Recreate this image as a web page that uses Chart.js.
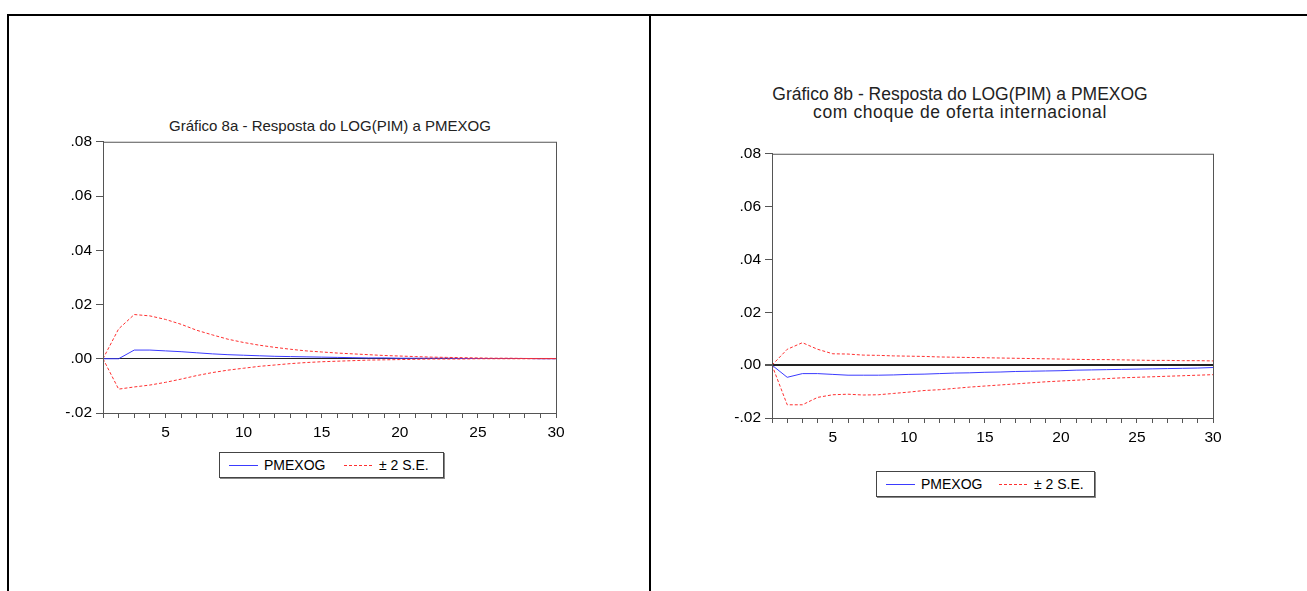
<!DOCTYPE html>
<html>
<head>
<meta charset="utf-8">
<script src="https://cdn.jsdelivr.net/npm/chart.js@4"></script>
<style>
  body { margin: 0; background: #fff; width: 1307px; height: 591px; position: relative; overflow: hidden;
         font-family: "Liberation Sans", Arial, sans-serif; }
  .frame-top { position: absolute; left: 7px; top: 14px; width: 1300px; height: 2px; background: #000; }
  .frame-left { position: absolute; left: 7px; top: 14px; width: 2px; height: 577px; background: #000; }
  .frame-mid { position: absolute; left: 649px; top: 14px; width: 2px; height: 577px; background: #000; }
  .title { position: absolute; text-align: center; color: #222; white-space: nowrap; }
  .box { position: absolute; border: 1px solid #444; box-shadow: 1px 1px 0 #888; background: #fff;
         font-size: 14px; color: #000; box-sizing: border-box; white-space: nowrap; height: 26px; }
  .box span { position: absolute; }
  .ln { top: 12px; width: 29px; height: 1px; }
  .tx { top: 4px; line-height: 16px; }
  .solid { background: #3b3bff; }
  .dash { background: repeating-linear-gradient(to right, #ff3030 0 3px, #fff 3px 5px); }
  canvas { position: absolute; }
</style>
</head>
<body>
<div class="frame-top"></div>
<div class="frame-left"></div>
<div class="frame-mid"></div>

<div class="title" style="left:80px; width:500px; top:117px; font-size:15px; line-height:17px;">Gráfico 8a - Resposta do LOG(PIM) a PMEXOG</div>
<div class="title" style="left:710px; width:500px; top:85px; font-size:17.5px; line-height:18px;">Gráfico 8b - Resposta do LOG(PIM) a PMEXOG<br><span style="letter-spacing:0.6px">com choque de oferta internacional</span></div>

<div class="box" style="left:219px; top:452px; width:225px;">
  <span class="ln solid" style="left:9px"></span><span class="tx" style="left:44px">PMEXOG</span>
  <span class="ln dash" style="left:124px"></span><span class="tx" style="left:159px">± 2 S.E.</span>
</div>
<div class="box" style="left:876px; top:471px; width:219px;">
  <span class="ln solid" style="left:9px"></span><span class="tx" style="left:44px">PMEXOG</span>
  <span class="ln dash" style="left:122px"></span><span class="tx" style="left:157px">± 2 S.E.</span>
</div>

<canvas id="chart8a" style="left:50px; top:130px;" width="520" height="320"></canvas>
<canvas id="chart8b" style="left:719px; top:142px;" width="508" height="313"></canvas>

<script>
// periods 1..30
const periods = [1,2,3,4,5,6,7,8,9,10,11,12,13,14,15,16,17,18,19,20,21,22,23,24,25,26,27,28,29,30];

// Gráfico 8a
const resp8a = [0, 0, 0.0032, 0.0032, 0.0029, 0.0026, 0.0022, 0.0018, 0.0015, 0.0013,
  0.0011, 0.0009, 0.0008, 0.0007, 0.0006, 0.0005, 0.0004, 0.0003, 0.0003, 0.0002,
  0.0002, 0.0002, 0.0002, 0.0001, 0.0001, 0.0001, 0.0001, 0.0001, 0, 0];
const upper8a = [0, 0.011, 0.0163, 0.0158, 0.0145, 0.0127, 0.0105, 0.0088, 0.0072, 0.006,
  0.005, 0.0042, 0.0035, 0.0029, 0.0025, 0.0021, 0.0018, 0.0015, 0.0012, 0.001,
  0.0008, 0.0006, 0.0005, 0.0004, 0.0003, 0.0002, 0.0002, 0.0001, 0.0001, 0.0001];
const lower8a = [0, -0.0112, -0.0104, -0.0097, -0.0087, -0.0075, -0.0062, -0.0051, -0.0042, -0.0035,
  -0.0028, -0.0023, -0.0018, -0.0014, -0.0011, -0.0009, -0.0007, -0.0005, -0.0004, -0.0003,
  -0.0002, -0.0001, -0.0001, -0.0001, 0, 0, 0, 0, 0, 0];

// Gráfico 8b
const resp8b = [0, -0.0046, -0.0032, -0.0032, -0.0035, -0.0038, -0.0038, -0.0038, -0.0037, -0.0035,
  -0.0034, -0.0032, -0.003, -0.0029, -0.0027, -0.0026, -0.0024, -0.0023, -0.0022, -0.0021,
  -0.0019, -0.0018, -0.0017, -0.0016, -0.0015, -0.0014, -0.0013, -0.0012, -0.0011, -0.0009];
const upper8b = [0, 0.006, 0.0085, 0.006, 0.0043, 0.0042, 0.0038, 0.0037, 0.0035, 0.0034,
  0.0033, 0.0031, 0.003, 0.0029, 0.0028, 0.0027, 0.0026, 0.0025, 0.0024, 0.0023,
  0.0022, 0.0021, 0.0021, 0.002, 0.0019, 0.0018, 0.0018, 0.0017, 0.0017, 0.0016];
const lower8b = [0, -0.015, -0.015, -0.0122, -0.0112, -0.011, -0.0113, -0.0112, -0.0107, -0.0102,
  -0.0096, -0.0093, -0.0088, -0.0083, -0.0079, -0.0075, -0.0071, -0.0067, -0.0063, -0.006,
  -0.0057, -0.0054, -0.0051, -0.0048, -0.0046, -0.0044, -0.0042, -0.004, -0.0038, -0.0036];

const yTicks = [-0.02, 0, 0.02, 0.04, 0.06, 0.08];

// box round the plot area
const framePlugin = {
  id: "frame",
  afterDraw(chart) {
    const a = chart.chartArea, c = chart.ctx;
    c.save();
    c.strokeStyle = "#555";
    c.lineWidth = 1;
    c.strokeRect(a.left + 0.5, a.top + 0.5, a.right - a.left, a.bottom - a.top);
    c.restore();
  },
};

function irfChart(id, resp, upper, lower, zeroWidth) {
  return new Chart(document.getElementById(id), {
    type: "line",
    data: {
      labels: periods,
      datasets: [
        { label: "± 2 S.E.", data: upper, borderColor: "#ff3030", borderWidth: 1, borderDash: [3, 2], pointRadius: 0, tension: 0 },
        { label: "± 2 S.E.", data: lower, borderColor: "#ff3030", borderWidth: 1, borderDash: [3, 2], pointRadius: 0, tension: 0 },
        { label: "PMEXOG", data: resp, borderColor: "#3b3bff", borderWidth: 1, pointRadius: 0, tension: 0 },
      ],
    },
    options: {
      responsive: false,
      animation: false,
      layout: { padding: { top: 10, right: 14, left: 0, bottom: 0 } },
      plugins: { legend: { display: false }, tooltip: { enabled: false } },
      scales: {
        x: {
          type: "linear",
          min: 1,
          max: 30,
          afterFit: (s) => { s.height = 37; },
          afterBuildTicks: (s) => { s.ticks = periods.map((v) => ({ value: v })); },
          ticks: {
            autoSkip: false,
            maxRotation: 0,
            color: "#000",
            font: { family: "Liberation Sans", size: 15.5 },
            padding: 5,
            callback: (v) => (v % 5 === 0 ? String(v) : ""),
          },
          grid: { drawOnChartArea: false, tickLength: 5, tickColor: "#555" },
          border: { color: "#555" },
        },
        y: {
          min: -0.02,
          max: 0.08,
          afterFit: (s) => { s.width = 53; },
          afterBuildTicks: (s) => { s.ticks = yTicks.map((v) => ({ value: v })); },
          ticks: {
            color: "#000",
            font: { family: "Liberation Sans", size: 15.5, lineHeight: 1 },
            padding: 4,
            callback: (v) => v.toFixed(2).replace("0.", "."),
          },
          grid: {
            color: (ctx) => (ctx.tick && Math.abs(ctx.tick.value) < 1e-9 ? "#222" : "rgba(0,0,0,0)"),
            lineWidth: (ctx) => (ctx.tick && Math.abs(ctx.tick.value) < 1e-9 ? zeroWidth : 1),
            tickLength: 7,
            tickColor: "#555",
          },
          border: { color: "#555" },
        },
      },
    },
    plugins: [framePlugin],
  });
}

irfChart("chart8a", resp8a, upper8a, lower8a, 1);
irfChart("chart8b", resp8b, upper8b, lower8b, 2);
</script>
</body>
</html>
